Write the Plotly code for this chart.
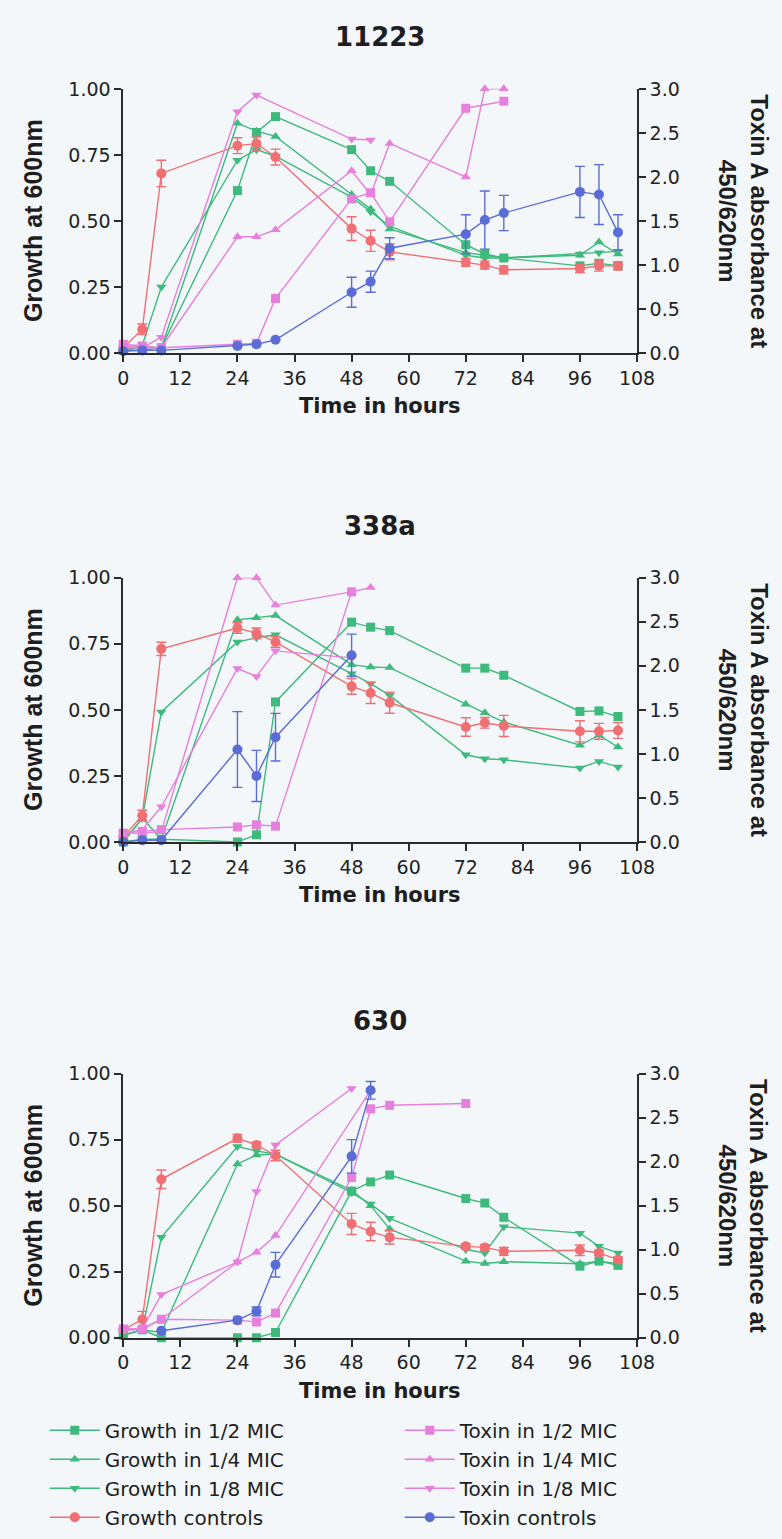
import plotly.graph_objects as go

W, H = 782, 1539

# ---------------- data ----------------
panel_titles = ["11223", "338a", "630"]
x_ticks = [0, 12, 24, 36, 48, 60, 72, 84, 96, 108]
y_left_ticks = [0, 0.25, 0.5, 0.75, 1.0]
y_right_ticks = [0, 0.5, 1.0, 1.5, 2.0, 2.5, 3.0]

t_full = [0, 4, 8, 24, 28, 32, 48, 52, 56, 72, 76, 80, 96, 100, 104]

# Panel 1 : 11223
p1_g_half = [0.01, 0.02, 0.02, 0.615, 0.835, 0.895, 0.77, 0.69, 0.65, 0.41, 0.375, 0.36, 0.33, 0.34, 0.33]
p1_g_quarter = [0.01, 0.01, 0.02, 0.87, 0.84, 0.82, 0.60, 0.545, 0.47, 0.38, 0.37, 0.36, 0.37, 0.42, 0.375]
p1_g_eighth = [0.01, 0.03, 0.25, 0.73, 0.77, 0.745, 0.59, 0.535, 0.48, 0.37, 0.36, 0.36, 0.375, 0.38, 0.385]
p1_g_ctrl = [0.02, 0.09, 0.68, 0.785, 0.793, 0.742, 0.471, 0.425, 0.383, 0.343, 0.333, 0.315, 0.32, 0.33, 0.33]
p1_g_ctrl_err = [0.01, 0.02, 0.05, 0.03, 0.025, 0.03, 0.045, 0.04, 0.03, 0.015, 0.015, 0.015, 0.015, 0.02, 0.015]
p1_t_half_t = [0, 4, 8, 24, 28, 32, 48, 52, 56, 72, 80]
p1_t_half = [0.10, 0.08, 0.06, 0.10, 0.11, 0.62, 1.75, 1.82, 1.49, 2.78, 2.86]
p1_t_quarter_t = [0, 4, 8, 24, 28, 32, 48, 52, 56, 72, 76, 80]
p1_t_quarter = [0.08, 0.06, 0.06, 1.32, 1.32, 1.40, 2.07, 1.80, 2.38, 2.00, 3.00, 3.00]
p1_t_eighth_t = [0, 4, 8, 24, 28, 48, 52]
p1_t_eighth = [0.06, 0.06, 0.18, 2.74, 2.93, 2.43, 2.42]
p1_t_ctrl_t = [0, 4, 8, 24, 28, 32, 48, 52, 56, 72, 76, 80, 96, 100, 104]
p1_t_ctrl = [0.02, 0.03, 0.03, 0.08, 0.10, 0.15, 0.69, 0.81, 1.19, 1.35, 1.51, 1.59, 1.83, 1.80, 1.37]
p1_t_ctrl_err = [0, 0, 0, 0, 0, 0, 0.17, 0.12, 0.12, 0.22, 0.33, 0.2, 0.29, 0.34, 0.2]

# Panel 2 : 338a
p2_g_half = [0.0, 0.01, 0.01, 0.0, 0.027, 0.53, 0.832, 0.813, 0.80, 0.658, 0.658, 0.631, 0.494, 0.496, 0.475]
p2_g_quarter = [0.0, 0.09, 0.01, 0.841, 0.849, 0.857, 0.671, 0.662, 0.66, 0.521, 0.489, 0.454, 0.366, 0.404, 0.359]
p2_g_eighth = [0.0, 0.09, 0.492, 0.757, 0.773, 0.784, 0.637, 0.599, 0.555, 0.33, 0.315, 0.311, 0.28, 0.305, 0.284]
p2_g_ctrl = [0.02, 0.10, 0.731, 0.81, 0.79, 0.757, 0.589, 0.564, 0.527, 0.435, 0.451, 0.439, 0.419, 0.419, 0.422]
p2_g_ctrl_err = [0.01, 0.02, 0.025, 0.02, 0.02, 0.02, 0.03, 0.04, 0.04, 0.035, 0.02, 0.04, 0.04, 0.03, 0.03]
p2_t_half_t = [0, 4, 8, 24, 28, 32, 48]
p2_t_half = [0.10, 0.12, 0.14, 0.17, 0.195, 0.18, 2.84]
p2_t_quarter_t = [0, 4, 8, 24, 28, 32, 48, 52]
p2_t_quarter = [0.10, 0.10, 0.12, 3.00, 3.00, 2.69, 2.84, 2.89]
p2_t_eighth_t = [0, 4, 8, 24, 28, 32, 48]
p2_t_eighth = [0.10, 0.14, 0.40, 1.97, 1.88, 2.17, 2.09]
p2_t_ctrl_t = [0, 4, 8, 24, 28, 32, 48]
p2_t_ctrl = [0.0, 0.02, 0.02, 1.05, 0.75, 1.19, 2.12]
p2_t_ctrl_err = [0, 0, 0, 0.43, 0.29, 0.27, 0.24]

# Panel 3 : 630
p3_g_half = [0.01, 0.03, 0.0, 0.0, 0.0, 0.02, 0.555, 0.59, 0.616, 0.527, 0.51, 0.456, 0.271, 0.29, 0.274]
p3_g_quarter = [0.01, 0.03, 0.02, 0.658, 0.692, 0.695, 0.558, 0.50, 0.412, 0.29, 0.281, 0.288, 0.28, 0.29, 0.28]
p3_g_eighth = [0.01, 0.03, 0.38, 0.724, 0.707, 0.695, 0.549, 0.506, 0.452, 0.334, 0.321, 0.42, 0.396, 0.346, 0.321]
p3_g_ctrl = [0.03, 0.07, 0.60, 0.755, 0.73, 0.69, 0.431, 0.402, 0.38, 0.346, 0.342, 0.327, 0.331, 0.321, 0.296]
p3_g_ctrl_err = [0.01, 0.03, 0.035, 0.015, 0.01, 0.02, 0.04, 0.035, 0.025, 0.01, 0.01, 0.015, 0.02, 0.01, 0.01]
p3_t_half_t = [0, 4, 8, 24, 28, 32, 48, 52, 56, 72]
p3_t_half = [0.10, 0.10, 0.21, 0.20, 0.18, 0.28, 1.82, 2.60, 2.64, 2.66]
p3_t_quarter_t = [0, 4, 8, 24, 28, 32, 52]
p3_t_quarter = [0.10, 0.10, 0.21, 0.86, 0.97, 1.16, 2.81]
p3_t_eighth_t = [0, 4, 8, 24, 28, 32, 48]
p3_t_eighth = [0.08, 0.10, 0.49, 0.86, 1.66, 2.19, 2.83]
p3_t_ctrl_t = [8, 24, 28, 32, 48, 52]
p3_t_ctrl = [0.08, 0.20, 0.30, 0.83, 2.06, 2.81]
p3_t_ctrl_err = [0, 0, 0.05, 0.14, 0.19, 0.1]

panels = [
    dict(g=[p1_g_half, p1_g_quarter, p1_g_eighth], gc=p1_g_ctrl, gce=p1_g_ctrl_err,
         tt=[p1_t_half_t, p1_t_quarter_t, p1_t_eighth_t], tv=[p1_t_half, p1_t_quarter, p1_t_eighth],
         tct=p1_t_ctrl_t, tc=p1_t_ctrl, tce=p1_t_ctrl_err),
    dict(g=[p2_g_half, p2_g_quarter, p2_g_eighth], gc=p2_g_ctrl, gce=p2_g_ctrl_err,
         tt=[p2_t_half_t, p2_t_quarter_t, p2_t_eighth_t], tv=[p2_t_half, p2_t_quarter, p2_t_eighth],
         tct=p2_t_ctrl_t, tc=p2_t_ctrl, tce=p2_t_ctrl_err),
    dict(g=[p3_g_half, p3_g_quarter, p3_g_eighth], gc=p3_g_ctrl, gce=p3_g_ctrl_err,
         tt=[p3_t_half_t, p3_t_quarter_t, p3_t_eighth_t], tv=[p3_t_half, p3_t_quarter, p3_t_eighth],
         tct=p3_t_ctrl_t, tc=p3_t_ctrl, tce=p3_t_ctrl_err),
]

growth_names = ["Growth in 1/2 MIC", "Growth in 1/4 MIC", "Growth in 1/8 MIC"]
toxin_names = ["Toxin in 1/2 MIC", "Toxin in 1/4 MIC", "Toxin in 1/8 MIC"]
symbols = ["square", "triangle-up", "triangle-down"]

GREEN = "#3dba7c"
RED = "#ef6f72"
PINK = "#e77fdc"
BLUE = "#5a6cd6"
AX = "#2b2b2b"
BG = "#f3f7fa"

# ---------------- geometry (pixels) ----------------
X0, X1 = 121, 651
tops = [79, 575, 1078]
PH = 268

def py(p):
    return 1 - p / H

fig = go.Figure()

tick_font = dict(family="DejaVu Sans", size=19, color="#222")

for i, pdat in enumerate(panels):
    n = i + 1
    xa = "x" if n == 1 else f"x{n}"
    yl = f"y{2*n-1}" if n > 1 else "y"
    yr = f"y{2*n}"
    show = (n == 1)
    traces = []
    for k in range(3):
        traces.append(go.Scatter(x=t_full, y=pdat["g"][k], name=growth_names[k], mode="lines+markers",
                                 line=dict(color=GREEN, width=1.4),
                                 marker=dict(symbol=symbols[k], size=9, color=GREEN),
                                 xaxis=xa, yaxis=yl, legendgroup=growth_names[k], showlegend=show,
                                 legendrank=2 * k + 1, cliponaxis=False))
        traces.append(go.Scatter(x=pdat["tt"][k], y=pdat["tv"][k], name=toxin_names[k], mode="lines+markers",
                                 line=dict(color=PINK, width=1.4),
                                 marker=dict(symbol=symbols[k], size=9, color=PINK),
                                 xaxis=xa, yaxis=yr, legendgroup=toxin_names[k], showlegend=show,
                                 legendrank=2 * k + 2, cliponaxis=False))
    traces.append(go.Scatter(x=t_full, y=pdat["gc"], name="Growth controls", mode="lines+markers",
                             line=dict(color=RED, width=1.4),
                             marker=dict(symbol="circle", size=10, color=RED),
                             error_y=dict(type="data", array=pdat["gce"], color=RED, thickness=1.4, width=5),
                             xaxis=xa, yaxis=yl, legendgroup="gc", showlegend=show,
                             legendrank=7, cliponaxis=False))
    traces.append(go.Scatter(x=pdat["tct"], y=pdat["tc"], name="Toxin controls", mode="lines+markers",
                             line=dict(color=BLUE, width=1.4),
                             marker=dict(symbol="circle", size=10, color=BLUE),
                             error_y=dict(type="data", array=pdat["tce"], color=BLUE, thickness=1.4, width=5),
                             xaxis=xa, yaxis=yr, legendgroup="tc", showlegend=show,
                             legendrank=8, cliponaxis=False))
    for tr in traces:
        fig.add_trace(tr)

    top = tops[i]
    bot = top + PH
    dom_y = [py(bot), py(top)]
    dom_x = [X0 / W, X1 / W]
    xkey = "xaxis" if n == 1 else f"xaxis{n}"
    ylkey = "yaxis" if n == 1 else f"yaxis{2*n-1}"
    yrkey = f"yaxis{2*n}"
    fig.layout[xkey] = dict(domain=dom_x, anchor=yl, range=[0, 108], tickvals=x_ticks,
                            ticks="outside", ticklen=7, tickwidth=1.5, tickcolor=AX,
                            showline=True, linecolor=AX, linewidth=1.6, showgrid=False, zeroline=False,
                            tickfont=tick_font, fixedrange=True)
    fig.layout[ylkey] = dict(domain=dom_y, anchor=xa, range=[0, 1.0], tickvals=y_left_ticks,
                             tickformat=".2f", ticks="outside", ticklen=7, tickwidth=1.5, tickcolor=AX,
                             showline=True, linecolor=AX, linewidth=1.6, showgrid=False, zeroline=False,
                             tickfont=tick_font, fixedrange=True)
    fig.layout[yrkey] = dict(domain=dom_y, anchor=xa, overlaying=yl, side="right", range=[0, 3.0],
                             tickvals=y_right_ticks, tickformat=".1f", ticks="outside", ticklen=7,
                             tickwidth=1.5, tickcolor=AX, showline=True, linecolor=AX, linewidth=1.6,
                             showgrid=False, zeroline=False, tickfont=tick_font, fixedrange=True)

    fig.add_annotation(text=f"<b>{panel_titles[i]}</b>", x=(X0 + X1) / 2 / W, y=py(top - 53),
                       xref="paper", yref="paper", showarrow=False, xanchor="center", yanchor="middle",
                       font=dict(family="DejaVu Sans", size=26, color="#1e1e1e"))
    fig.add_annotation(text="<b>Time in hours</b>", x=(X0 + X1) / 2 / W, y=py(bot + 54),
                       xref="paper", yref="paper", showarrow=False, xanchor="center", yanchor="middle",
                       font=dict(family="DejaVu Sans", size=21, color="#1e1e1e"))
    fig.add_annotation(text="<b>Growth at 600nm</b>", x=28 / W, y=py(top + PH / 2),
                       xref="paper", yref="paper", showarrow=False, xanchor="center", yanchor="middle",
                       textangle=-90,
                       font=dict(family="Liberation Sans Narrow, Arial Narrow, Liberation Sans", size=25,
                                 color="#1e1e1e"))
    fig.add_annotation(text="<b>Toxin A absorbance at<br>450/620nm</b>", x=761 / W, y=py(top + PH / 2),
                       xref="paper", yref="paper", showarrow=False, xanchor="center", yanchor="middle",
                       textangle=90,
                       font=dict(family="Liberation Sans Narrow, Arial Narrow, Liberation Sans", size=24,
                                 color="#1e1e1e"))

fig.update_layout(
    width=W, height=H,
    margin=dict(l=0, r=0, t=0, b=0),
    paper_bgcolor=BG, plot_bgcolor=BG,
    showlegend=True,
    legend=dict(orientation="h", x=40 / W, y=py(1420), xanchor="left", yanchor="top",
                entrywidth=290, entrywidthmode="pixels", traceorder="normal",
                font=dict(family="DejaVu Sans", size=20, color="#1e1e1e"),
                bgcolor="rgba(0,0,0,0)", itemwidth=50, tracegroupgap=0),
)

fig.write_html("out.html")
